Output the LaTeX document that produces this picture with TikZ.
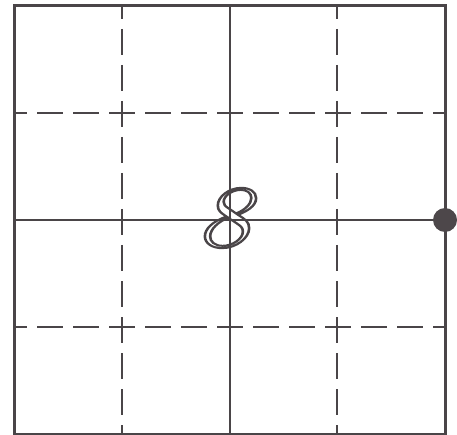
\documentclass[tikz,border=0pt]{standalone}
\usepackage{tikz}
\usetikzlibrary{positioning,calc}
\definecolor{ink}{HTML}{4A4548}
\definecolor{dotgray}{HTML}{4D474A}

\begin{document}
\begin{tikzpicture}[
  x=1pt,y=-1pt,
  frame/.style={draw=ink,line width=3pt},
  midline/.style={draw=ink,line width=2pt},
  quarter/.style={draw=ink,line width=1.8pt,dash pattern=on 26pt off 10pt,dash phase=13pt},
  dot/.style={circle,fill=dotgray,inner sep=0pt,minimum size=24pt}
]
\useasboundingbox (0,0) rectangle (457,435);
\coordinate (nw) at (14,6);
\coordinate (se) at (445,434);
\coordinate (c) at ($(nw)!.5!(se)$);
\draw[quarter] ($(nw)!.25!(nw-|se)$) -- ($(nw|-se)!.25!(se)$);
\draw[quarter] ($(nw)!.75!(nw-|se)$) -- ($(nw|-se)!.75!(se)$);
\draw[quarter] ($(nw)!.25!(nw|-se)$) -- ($(nw-|se)!.25!(se)$);
\draw[quarter] ($(nw)!.75!(nw|-se)$) -- ($(nw-|se)!.75!(se)$);
\draw[midline] (c|-nw) -- (c|-se);
\draw[midline] (c-|nw) -- (c-|se);
\draw[frame] (nw) rectangle (se);
\node[dot] (knob) at (c-|se) {};
\node[text=ink,inner sep=0pt] (digit) at ($(c)+(-7,-2)$)
  {\scalebox{1.3}[1]{\special{pdf:code 1 Tr 2 w}\fontsize{88}{88}\selectfont\itshape 8\special{pdf:code 0 Tr}}};
\end{tikzpicture}
\end{document}
